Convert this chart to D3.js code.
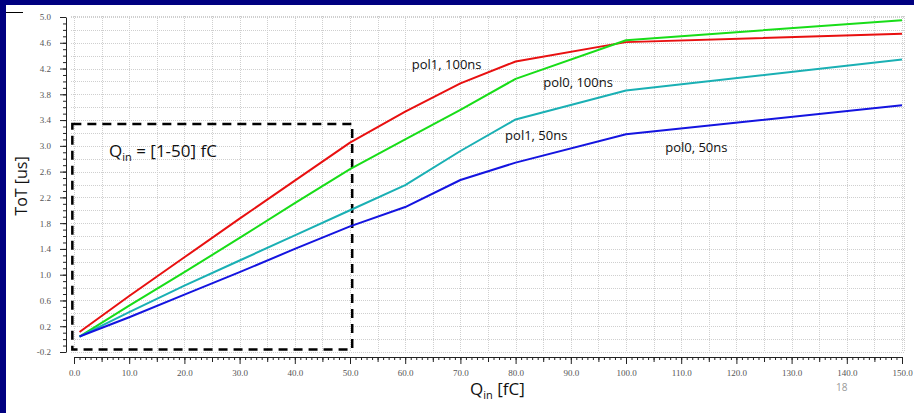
<!DOCTYPE html>
<html>
<head>
<meta charset="utf-8">
<script src="https://cdn.jsdelivr.net/npm/d3@7"></script>
<style>
  html, body { margin: 0; padding: 0; background: #fff; }
  svg { display: block; }
</style>
</head>
<body>
<svg id="chart" width="914" height="413"></svg>
<script>
// ---- data ----
const qValues   = [1, 10, 20, 30, 40, 50, 60, 70, 80, 100, 150];
const pol1_100  = [0.11, 0.67, 1.27, 1.87, 2.46, 3.05, 3.53, 3.97, 4.31, 4.61, 4.74];
const pol0_100  = [0.04, 0.52, 1.04, 1.57, 2.11, 2.64, 3.10, 3.56, 4.04, 4.64, 4.95];
const pol1_50   = [0.04, 0.42, 0.83, 1.22, 1.61, 2.00, 2.39, 2.92, 3.41, 3.86, 4.34];
const pol0_50   = [0.04, 0.34, 0.69, 1.04, 1.40, 1.75, 2.05, 2.47, 2.74, 3.18, 3.63];
const seriesNames  = ["pol1, 100ns", "pol0, 100ns", "pol1, 50ns", "pol0, 50ns"];
const seriesColors = ["#e81010", "#18dd18", "#1ab0b4", "#1414e0"];
const labelAnchors = [[61.2, 4.19], [85.0, 3.91], [78.1, 3.09], [107.1, 2.90]]; // [q, ToT] for series labels
const yMajorTicks = d3.range(-0.2, 5.0001, 0.4).map(v => +v.toFixed(1));
const yMinorTicks = d3.range(-0.2, 5.0001, 0.1).map(v => +v.toFixed(1));
const xMajorTicks = d3.range(0, 151, 10);
const xMidTicks   = d3.range(5, 151, 10);
const xMinorTicks = d3.range(0, 151, 1);
const boxRange = { q0: -0.3, q1: 50.4, v0: -0.16, v1: 3.34 };

const svg = d3.select("#chart");

// slide frame
svg.append("rect").attr("x", 0).attr("y", 0).attr("width", 914).attr("height", 5).attr("fill", "#000080");
svg.append("rect").attr("x", 0).attr("y", 0).attr("width", 6).attr("height", 413).attr("fill", "#000080");
svg.append("line").attr("x1", 6).attr("x2", 23).attr("y1", 12.5).attr("y2", 12.5).attr("stroke", "#000").attr("stroke-width", 1);

const x = d3.scaleLinear().domain([0, 150]).range([74, 902]);
const y = d3.scaleLinear().domain([-0.2, 5.0]).range([352, 17]);

// grid
const grid = svg.append("g").attr("stroke", "#cfcfcf").attr("stroke-width", 1).attr("stroke-dasharray", "1,1");
d3.range(-0.2, 5.0001, 0.2).forEach(v => {
  grid.append("line").attr("x1", 71).attr("x2", 904)
    .attr("y1", Math.round(y(v)) + 0.5).attr("y2", Math.round(y(v)) + 0.5);
});
d3.range(0, 151, 5).forEach(q => {
  grid.append("line").attr("y1", 16).attr("y2", 352)
    .attr("x1", Math.round(x(q)) + 0.5).attr("x2", Math.round(x(q)) + 0.5);
});
grid.append("line").attr("x1", 904.5).attr("x2", 904.5).attr("y1", 16).attr("y2", 352);
grid.append("line").attr("x1", 71).attr("x2", 904).attr("y1", 16.5).attr("y2", 16.5);

// axes
const fmt = d => d.toFixed(1);
const yAxisG = svg.append("g").attr("transform", "translate(66,0)");
yAxisG.call(d3.axisLeft(y).tickValues(yMinorTicks).tickSize(3).tickSizeOuter(0).tickFormat(""));
yAxisG.append("g").call(d3.axisLeft(y).tickValues(yMajorTicks).tickSize(6).tickSizeOuter(0).tickPadding(9).tickFormat(fmt))
  .call(g => g.select(".domain").remove());

const xAxisG = svg.append("g").attr("transform", "translate(0,357)");
xAxisG.call(d3.axisBottom(x).tickValues(xMinorTicks).tickSize(3).tickSizeOuter(0).tickFormat(""));
xAxisG.append("g").call(d3.axisBottom(x).tickValues(xMidTicks).tickSize(5).tickFormat(""))
  .call(g => g.select(".domain").remove());
xAxisG.append("g").call(d3.axisBottom(x).tickValues(xMajorTicks).tickSize(7).tickPadding(6).tickFormat(fmt))
  .call(g => g.select(".domain").remove());

svg.selectAll(".tick text").attr("font-family", "'Liberation Serif', serif").attr("font-size", 9).attr("fill", "#555");
svg.selectAll(".domain, .tick line").attr("stroke", "#222");

// dashed box
svg.append("rect")
  .attr("x", x(boxRange.q0)).attr("y", y(boxRange.v1))
  .attr("width", x(boxRange.q1) - x(boxRange.q0)).attr("height", y(boxRange.v0) - y(boxRange.v1))
  .attr("fill", "none").attr("stroke", "#000").attr("stroke-width", 2.5).attr("stroke-dasharray", "9,6");

// lines
const allSeries = [pol1_100, pol0_100, pol1_50, pol0_50];
const lineGen = d3.line().x(d => x(d[0])).y(d => y(d[1]));
allSeries.forEach((vals, i) => {
  svg.append("path")
    .datum(qValues.map((q, j) => [q, vals[j]]))
    .attr("d", lineGen).attr("fill", "none")
    .attr("stroke", seriesColors[i]).attr("stroke-width", 2).attr("stroke-linejoin", "round");
});

// series labels
const txtFont = "'Open Sans', 'Noto Sans', sans-serif";
seriesNames.forEach((name, i) => {
  svg.append("text").attr("x", x(labelAnchors[i][0])).attr("y", y(labelAnchors[i][1]))
    .attr("font-family", txtFont).attr("font-size", 13).attr("fill", "#111").text(name);
});

// box annotation
const qt = svg.append("text").attr("x", 109).attr("y", 157)
  .attr("font-family", txtFont).attr("font-size", 17).attr("fill", "#111");
qt.append("tspan").text("Q");
qt.append("tspan").attr("font-size", 11).attr("dy", 4).text("in");
qt.append("tspan").attr("dy", -4).text(" = [1-50] fC");

// axis titles
svg.append("text").attr("transform", "translate(27,186) rotate(-90)").attr("text-anchor", "middle")
  .attr("font-family", txtFont).attr("font-size", 16).attr("fill", "#111").text("ToT [us]");
const xt = svg.append("text").attr("x", 470).attr("y", 395)
  .attr("font-family", txtFont).attr("font-size", 17).attr("fill", "#111");
xt.append("tspan").text("Q");
xt.append("tspan").attr("font-size", 11).attr("dy", 4).text("in");
xt.append("tspan").attr("dy", -4).text(" [fC]");

svg.append("text").attr("x", 836).attr("y", 391).attr("font-family", txtFont)
  .attr("font-size", 10).attr("fill", "#999").text("18");
</script>
</body>
</html>
